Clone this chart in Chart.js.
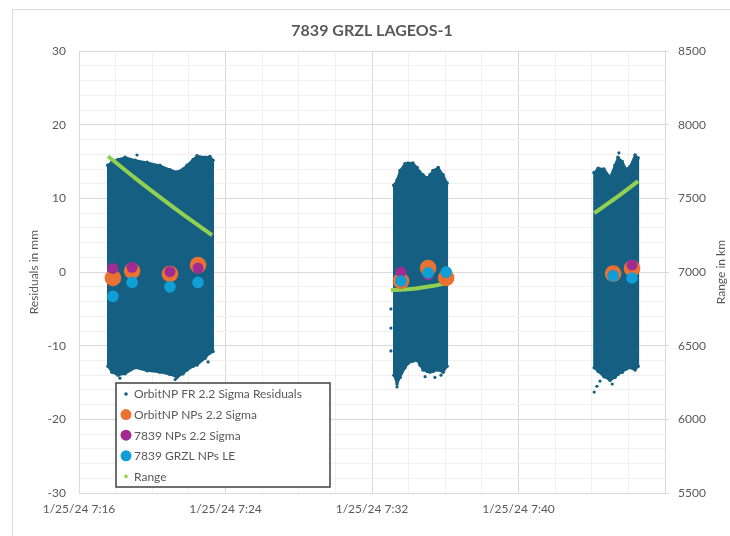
<!DOCTYPE html>
<html>
<head>
<meta charset="utf-8">
<script src="https://cdn.jsdelivr.net/npm/chart.js@4"></script>
<style>
  html, body { margin: 0; padding: 0; background: #fff; }
  #wrap { width: 730px; height: 536px; position: relative; }
</style>
</head>
<body>
<div id="wrap"><canvas id="lageosChart" width="730" height="536"></canvas></div>
<script>
// 7839 GRZL LAGEOS-1, pass of 1/25/24
const chartTitle = '7839 GRZL LAGEOS-1';
const dateLabel = '1/25/24';

// full rate residuals (mm) - the cloud is read as its upper / lower edge per segment
const fr1Time = ['7:17:35', '7:17:48', '7:18:08', '7:18:31', '7:19:04', '7:19:43', '7:20:25', '7:20:58', '7:21:21', '7:21:41', '7:21:54', '7:22:14', '7:22:27', '7:22:53', '7:23:09', '7:23:19'];
const fr1Top = [14.5, 15.0, 15.3, 15.6, 15.2, 14.9, 14.5, 13.9, 13.6, 14.0, 14.5, 15.3, 15.8, 15.6, 15.7, 15.2];
const fr1Bottom = [-12.8, -13.6, -14.0, -13.8, -13.0, -13.4, -13.6, -13.9, -14.3, -13.8, -13.3, -12.8, -12.6, -11.7, -11.0, -10.8];

const fr2Time = ['7:33:12', '7:33:22', '7:33:32', '7:33:48', '7:33:58', '7:34:14', '7:34:28', '7:34:37', '7:34:47', '7:35:01', '7:35:10', '7:35:20', '7:35:37', '7:35:53', '7:36:06'];
const fr2Top = [11.8, 12.5, 13.8, 14.7, 14.8, 14.8, 14.2, 13.6, 13.2, 12.8, 13.2, 13.8, 14.2, 13.2, 12.1];
const fr2Bottom = [-14.0, -15.2, -14.3, -13.0, -12.4, -12.1, -12.0, -12.6, -13.3, -13.5, -13.6, -13.5, -13.3, -13.6, -12.8];

const fr3Time = ['7:44:08', '7:44:21', '7:44:40', '7:45:00', '7:45:16', '7:45:26', '7:45:40', '7:45:52', '7:46:05', '7:46:22', '7:46:32'];
const fr3Top = [13.5, 14.1, 14.0, 12.9, 14.5, 15.6, 15.0, 14.0, 14.3, 15.9, 15.5];
const fr3Bottom = [-13.0, -13.5, -14.2, -14.7, -14.3, -13.9, -13.6, -13.2, -13.0, -13.3, -12.8];

// single full rate points sitting outside the band
const frStrayTime = ['7:33:02', '7:33:02', '7:33:02', '7:33:22', '7:44:08', '7:44:17', '7:45:29', '7:19:10', '7:18:14', '7:21:15', '7:23:03', '7:34:54', '7:35:26', '7:35:46', '7:44:27', '7:45:07'];
const frStrayValue = [-5.0, -7.6, -10.7, -15.6, -16.3, -15.5, 16.2, 15.9, -14.4, -14.6, -12.2, -14.2, -14.3, -14.0, -14.8, -15.2];

// range (km)
const range1Time = ['7:17:35', '7:19:00', '7:20:25', '7:21:51', '7:23:16'];
const range1Km = [7787, 7645, 7509, 7376, 7251];
const range2Time = ['7:33:02', '7:33:45', '7:34:31', '7:35:17', '7:36:03'];
const range2Km = [6878, 6882, 6891, 6905, 6925];
const range3Time = ['7:44:08', '7:45:20', '7:46:32'];
const range3Km = [7400, 7505, 7618];

// normal points (mm)
const npTime = ['7:17:51', '7:18:54', '7:20:58', '7:22:30', '7:33:35', '7:35:04', '7:36:03', '7:45:10', '7:46:12'];
const orbitNpValue = [-0.8, 0.15, -0.25, 0.95, -1.2, 0.55, -0.8, -0.2, 0.5];
const grzlNpValue = [0.5, 0.65, 0.05, 0.55, 0.0, -0.4, 0.0, -0.45, 0.95];
const grzlLeValue = [-3.3, -1.4, -2.0, -1.4, -1.2, -0.1, 0.0, -0.5, -0.8];

function toMin(t) {
    const p = t.split(':').map(Number);
    return p[0] * 60 + p[1] + (p[2] || 0) / 60;
}

function clock(m) {
    const h = Math.floor(m / 60);
    const mm = Math.round(m - h * 60);
    return h + ':' + String(mm).padStart(2, '0');
}

function pts(times, values) {
    return times.map((t, i) => ({ x: toMin(t), y: values[i] }));
}

// outline of a residual band: top edge left->right, bottom edge back
function band(times, top, bottom) {
    const upper = pts(times, top);
    const lower = pts(times, bottom).reverse();
    return upper.concat(lower, [upper[0]]);
}

const xMin = toMin('7:16:00');
const xMax = toMin('7:48:00');
const textGray = '#595959';

const residColor = '#156082';
const orange = '#e97132';
const purple = '#a02b93';
const lightBlue = '#0f9ed5';
const green = '#92d050';

let rangeData = pts(range1Time, range1Km);
rangeData.push({ x: toMin('7:28:00'), y: null });
rangeData = rangeData.concat(pts(range2Time, range2Km));
rangeData.push({ x: toMin('7:40:00'), y: null });
rangeData = rangeData.concat(pts(range3Time, range3Km));

function bandSet(times, top, bottom) {
    return {
        type: 'line',
        data: band(times, top, bottom),
        fill: 'shape',
        backgroundColor: residColor,
        borderColor: residColor,
        borderWidth: 2,
        pointRadius: 1.8,
        pointBorderWidth: 0,
        tension: 0,
        order: 7,
        yAxisID: 'y',
    };
}

const legendBox = {
    id: 'legendBox',
    beforeDraw(chart) {
        const ctx = chart.ctx;
        ctx.save();
        ctx.fillStyle = '#fff';
        ctx.fillRect(0, 0, chart.width, chart.height);
        ctx.strokeStyle = '#d9d9d9';
        ctx.lineWidth = 1;
        ctx.strokeRect(12.5, 9.5, 760, 560);
        ctx.restore();
    },
    afterDraw(chart) {
        const ctx = chart.ctx;
        ctx.save();

        // right axis title, reading bottom to top
        ctx.translate(721, (chart.chartArea.top + chart.chartArea.bottom) / 2);
        ctx.rotate(-Math.PI / 2);
        ctx.fillStyle = textGray;
        ctx.font = '12px Lato';
        ctx.textAlign = 'center';
        ctx.textBaseline = 'middle';
        ctx.fillText('Range in km', 0, 0);
        ctx.setTransform(1, 0, 0, 1, 0, 0);

        // legend
        const items = chart.data.datasets.filter(d => d.label);
        const bx = 116, by = 383, bw = 214, bh = 104;
        ctx.fillStyle = '#fff';
        ctx.fillRect(bx, by, bw, bh);
        ctx.strokeStyle = '#404040';
        ctx.lineWidth = 1.5;
        ctx.strokeRect(bx, by, bw, bh);
        ctx.font = '12px Lato';
        ctx.textAlign = 'left';
        ctx.textBaseline = 'middle';
        items.forEach((d, i) => {
            const y = 394 + i * 20.6;
            const r = d.legendRadius;
            ctx.beginPath();
            ctx.arc(126, y, r, 0, Math.PI * 2);
            ctx.fillStyle = d.backgroundColor;
            ctx.fill();
            ctx.fillStyle = textGray;
            ctx.fillText(d.label, 134, y + 0.5);
        });
        ctx.restore();
    }
};

Chart.defaults.font.family = 'Lato';
Chart.defaults.color = textGray;

const lageosChart = new Chart(document.getElementById('lageosChart'), {
    type: 'scatter',
    data: {
        datasets: [
            {
                label: 'OrbitNP FR 2.2 Sigma Residuals',
                data: pts(frStrayTime, frStrayValue),
                backgroundColor: residColor,
                borderColor: residColor,
                pointRadius: 1.6,
                borderWidth: 0,
                legendRadius: 1.8,
                order: 6,
                yAxisID: 'y',
            },
            bandSet(fr1Time, fr1Top, fr1Bottom),
            bandSet(fr2Time, fr2Top, fr2Bottom),
            bandSet(fr3Time, fr3Top, fr3Bottom),
            {
                label: 'OrbitNP NPs 2.2 Sigma',
                data: pts(npTime, orbitNpValue),
                backgroundColor: orange,
                pointRadius: 8.3,
                borderWidth: 0,
                legendRadius: 5.5,
                order: 3,
                yAxisID: 'y',
            },
            {
                label: '7839 NPs 2.2 Sigma',
                data: pts(npTime, grzlNpValue),
                backgroundColor: purple,
                pointRadius: 5.5,
                borderWidth: 0,
                legendRadius: 5.5,
                order: 2,
                yAxisID: 'y',
            },
            {
                label: '7839 GRZL NPs LE',
                data: pts(npTime, grzlLeValue),
                backgroundColor: lightBlue,
                pointRadius: 5.8,
                borderWidth: 0,
                legendRadius: 5.5,
                order: 1,
                yAxisID: 'y',
            },
            {
                label: 'Range',
                type: 'line',
                data: rangeData,
                borderColor: green,
                backgroundColor: green,
                borderWidth: 4,
                pointRadius: 0,
                tension: 0.3,
                spanGaps: false,
                fill: false,
                legendRadius: 1.8,
                order: 4,
                yAxisID: 'y2',
            },
        ]
    },
    options: {
        responsive: false,
        animation: false,
        layout: { padding: 0 },
        plugins: {
            legend: { display: false },
            tooltip: { enabled: false },
            title: {
                display: true,
                text: chartTitle,
                fullSize: false,
                color: textGray,
                font: { size: 16, weight: 'bold' },
                padding: { top: 21, bottom: 11 },
            },
        },
        scales: {
            x: {
                type: 'linear',
                min: xMin,
                max: xMax,
                afterFit: s => { s.height = 43; },
                ticks: {
                    stepSize: 2,
                    autoSkip: false,
                    maxRotation: 0,
                    padding: 9,
                    font: { size: 12 },
                    callback: v => ((v - xMin) % 8 === 0 && v < xMax) ? dateLabel + ' ' + clock(v) : '',
                },
                grid: {
                    drawTicks: false,
                    color: c => (c.tick && (c.tick.value - xMin) % 8 === 0) ? '#d9d9d9' : '#f0f0f0',
                },
                border: { color: '#d9d9d9' },
            },
            y: {
                position: 'left',
                min: -30,
                max: 30,
                afterFit: s => { s.width = 79; },
                ticks: {
                    stepSize: 2,
                    autoSkip: false,
                    padding: 13,
                    font: { size: 12 },
                    callback: v => v % 10 === 0 ? v : '',
                },
                grid: {
                    drawTicks: false,
                    color: c => (c.tick && c.tick.value % 10 === 0) ? '#d9d9d9' : '#f0f0f0',
                },
                border: { color: '#d9d9d9' },
                title: {
                    display: true,
                    text: 'Residuals in mm',
                    font: { size: 12 },
                    padding: { top: 27, bottom: 0 },
                },
            },
            y2: {
                position: 'right',
                min: 5500,
                max: 8500,
                afterFit: s => { s.width = 65; },
                ticks: {
                    stepSize: 500,
                    padding: 9,
                    font: { size: 12 },
                    callback: v => String(v),
                },
                grid: {
                    drawOnChartArea: false,
                    tickLength: 4,
                    color: '#d9d9d9',
                },
                border: { display: false },
            },
        },
    },
    plugins: [legendBox],
});
</script>
</body>
</html>
